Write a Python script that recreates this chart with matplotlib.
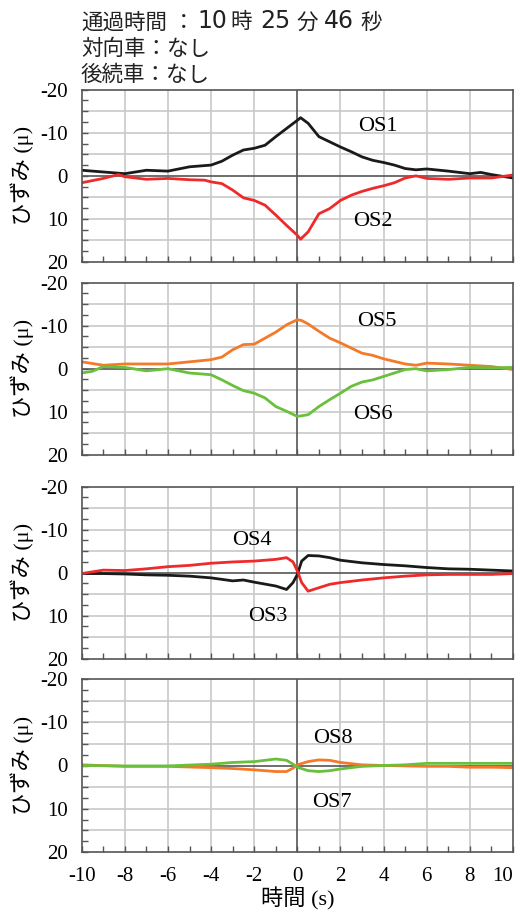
import numpy as np
import matplotlib
matplotlib.use('Agg')
import matplotlib.pyplot as plt
from matplotlib.ticker import MultipleLocator

# (strain, negative = up)
t_os1 = [-10, -9, -8, -7, -6, -5, -4, -3.5, -3, -2.5, -2, -1.5, -1, -0.5, 0, 0.15, 0.5, 1, 1.5, 2, 2.5, 3, 3.5, 4, 4.5, 5, 5.5, 6, 7, 8, 8.5, 9, 10]
os1 = [-1.3, -0.9, -0.5, -1.3, -1.1, -2.1, -2.5, -3.4, -4.8, -6.0, -6.4, -7.1, -9.1, -11.0, -12.9, -13.5, -12.2, -9.1, -7.9, -6.7, -5.6, -4.4, -3.6, -3.1, -2.5, -1.7, -1.4, -1.6, -1.1, -0.5, -0.8, -0.3, 0.5]

t_os2 = [-10, -9, -8.3, -8, -7, -6, -5, -4.3, -4, -3.5, -3, -2.5, -2, -1.5, -1, -0.5, 0, 0.15, 0.5, 1, 1.5, 2, 2.5, 3, 3.5, 4, 4.5, 5, 5.5, 6, 7, 8, 9, 10]
os2 = [1.6, 0.6, -0.3, 0.2, 0.8, 0.6, 0.9, 1.0, 1.4, 1.8, 3.3, 5.1, 5.7, 6.8, 9.1, 11.5, 13.8, 14.7, 13.0, 8.8, 7.6, 5.7, 4.5, 3.6, 2.9, 2.3, 1.6, 0.5, 0.0, 0.6, 0.8, 0.5, 0.5, -0.2]

t_os5 = [-10, -9, -8, -7, -6, -5, -4, -3.5, -3, -2.5, -2, -1.5, -1, -0.5, 0, 0.2, 0.5, 1, 1.5, 2, 2.5, 3, 3.5, 4, 4.5, 5, 5.5, 6, 7, 8, 9, 10]
os5 = [-1.6, -0.8, -1.1, -1.1, -1.1, -1.6, -2.1, -2.7, -4.4, -5.6, -5.7, -7.1, -8.5, -10.2, -11.4, -11.2, -10.4, -8.7, -7.1, -6.0, -4.8, -3.6, -3.1, -2.3, -1.7, -1.1, -0.8, -1.3, -1.1, -0.8, -0.5, 0.2]

t_os6 = [-10, -9.5, -9, -8, -7, -6, -5, -4, -3.5, -3, -2.5, -2, -1.5, -1, -0.5, 0, 0.5, 1, 1.5, 2, 2.5, 3, 3.5, 4, 4.5, 5, 5.5, 6, 7, 8, 9, 10]
os6 = [1.0, 0.6, -0.5, -0.3, 0.5, 0.0, 1.0, 1.4, 2.6, 3.9, 5.1, 5.7, 6.8, 8.8, 9.9, 11.1, 10.7, 8.8, 7.2, 5.7, 4.1, 3.1, 2.6, 1.8, 1.0, 0.2, 0.0, 0.5, 0.2, -0.3, -0.2, -0.3]

t_os3 = [-10, -9, -8, -7, -6, -5, -4, -3, -2.5, -2, -1, -0.5, -0.2, 0, 0.2, 0.5, 1, 1.5, 2, 3, 4, 5, 6, 7, 8, 9, 10]
os3 = [0.2, 0.2, 0.3, 0.5, 0.6, 0.8, 1.2, 1.9, 1.7, 2.2, 3.1, 3.9, 2.3, 0.4, -2.7, -4.0, -3.9, -3.5, -2.9, -2.3, -1.9, -1.6, -1.2, -0.9, -0.8, -0.6, -0.4]

t_os4 = [-10, -9, -8, -7, -6, -5, -4, -3, -2, -1, -0.5, -0.2, 0, 0.2, 0.5, 1, 1.5, 2, 3, 4, 5, 6, 7, 8, 9, 10]
os4 = [0.2, -0.6, -0.5, -0.9, -1.4, -1.7, -2.2, -2.5, -2.7, -3.1, -3.5, -2.5, -0.4, 2.3, 4.3, 3.5, 2.7, 2.3, 1.7, 1.2, 0.8, 0.5, 0.4, 0.4, 0.4, 0.2]

t_os7 = [-10, -8, -6, -4, -3, -2, -1, -0.5, -0.2, 0, 0.5, 1, 1.5, 2, 3, 4, 5, 6, 7, 8, 9, 10]
os7 = [0.0, 0.1, 0.1, -0.3, -0.7, -0.9, -1.5, -1.2, -0.3, 0.4, 1.2, 1.4, 1.2, 0.8, 0.2, 0.0, -0.15, -0.5, -0.5, -0.5, -0.5, -0.5]

t_os8 = [-10, -8, -6, -4, -3, -2, -1, -0.5, -0.2, 0, 0.5, 1, 1.5, 2, 3, 4, 5, 6, 7, 8, 9, 10]
os8 = [-0.15, 0.2, 0.2, 0.5, 0.7, 1.0, 1.4, 1.4, 0.6, -0.15, -0.9, -1.3, -1.2, -0.7, -0.15, 0.0, 0.1, 0.2, 0.2, 0.4, 0.4, 0.5]

y_ticks = [-20, -10, 0, 10, 20]
x_ticks = list(range(-10, 11, 2))
# first title line in pieces: 通過時間：10 時 25 分 46 秒
title_parts = ['通過時間', '：', '10', '時', '25', '分', '46', '秒']
title_lines = ['対向車：なし', '後続車：なし']

BLACK = '#1a1a1a'
RED = '#ee2a2a'
ORANGE = '#f47a2a'
GREEN = '#6abf3c'

panels = [
    ([(t_os1, os1, BLACK), (t_os2, os2, RED)], [('OS1', 3.74, -11.4), ('OS2', 3.5, 10.7)]),
    ([(t_os5, os5, ORANGE), (t_os6, os6, GREEN)], [('OS5', 3.68, -11.0), ('OS6', 3.52, 10.7)]),
    ([(t_os3, os3, BLACK), (t_os4, os4, RED)], [('OS4', -2.09, -7.4), ('OS3', -1.35, 10.1)]),
    ([(t_os8, os8, ORANGE), (t_os7, os7, GREEN)], [('OS8', 1.66, -6.2), ('OS7', 1.59, 8.5)]),
]

# axes boxes in pixels (top, bottom)
boxes = [(89.7, 262.0), (282.7, 454.7), (486.7, 658.7), (679.0, 852.0)]

W, H = 520, 915
fig = plt.figure(figsize=(W / 100, H / 100), dpi=100)

serif = ['Liberation Serif', 'Noto Sans CJK JP']
gothic = ['DejaVu Sans', 'Noto Sans CJK JP']
left, right = 81.7, 513.0
ylab_x = (22.5 - left) / (right - left)

for k, ((series, labels), (top, bot)) in enumerate(zip(panels, boxes)):
    ax = fig.add_axes([left / W, 1 - bot / H, (right - left) / W, (bot - top) / H])
    ax.set_xlim(-10, 10)
    ax.set_ylim(20, -20)
    ax.xaxis.set_minor_locator(MultipleLocator(1))
    ax.yaxis.set_minor_locator(MultipleLocator(2.5))
    for v in np.arange(-8, 9, 2):
        if v != 0:
            ax.axvline(v, color='#c8c8c8', lw=1.2, zorder=0)
    for v in np.arange(-15, 16, 5):
        if v != 0:
            ax.axhline(v, color='#c8c8c8', lw=1.2, zorder=0)
    ax.axhline(0, color='#555555', lw=1.2, zorder=1)
    ax.axvline(0, color='#555555', lw=1.2, zorder=1)
    for t, y, c in series:
        ax.plot(t, y, color=c, lw=2.0, zorder=2)
    for txt, x, y in labels:
        ax.text(x, y, txt, ha='center', va='center', fontsize=16, family='Liberation Serif')
    ax.tick_params(which='both', direction='in', color='#555555', width=1.0, top=False, right=False)
    ax.tick_params(which='major', length=4, labelsize=15)
    ax.tick_params(which='minor', length=4)
    ax.tick_params(axis='y', pad=10)
    ax.tick_params(axis='x', pad=11)
    ax.set_yticks(y_ticks)
    ax.set_yticklabels([str(v) for v in y_ticks], family='Liberation Serif')
    ax.set_xticks(x_ticks)
    ax.set_xticklabels([str(v) for v in x_ticks], family='Liberation Serif')
    for s in ax.spines.values():
        s.set_color('#555555')
        s.set_linewidth(1.2)
    ax.set_ylabel('ひずみ (μ)', family=serif, fontsize=16)
    ax.yaxis.set_label_coords(ylab_x, 0.5)
    ax.yaxis.label.set_va('center')
    if k < 3:
        ax.tick_params(axis='x', labelbottom=False)
    else:
        xl = ax.get_xticklabels()
        xl[-1].set_ha('right')
        xl[-1].set_x(10.15)
        ax.set_xlabel('時間 (s)', family=serif, fontsize=16)
        ax.xaxis.set_label_coords(0.5, -(899 - bot) / (bot - top))
        ax.xaxis.label.set_va('center')

# title block, baseline-aligned; first line placed piece by piece
part_x = [81, 183.5, 212, 241, 275, 307, 339, 371.5]
for part, xp in zip(title_parts, part_x):
    fs = 17 if part[0].isdigit() else 15.5
    fig.text(xp / W, 1 - 28.5 / H, part, family=gothic, fontsize=fs,
             ha='left' if xp == part_x[0] else 'center', va='baseline', color='#222222')
for i, line in enumerate(title_lines):
    fig.text(81 / W, 1 - (54.5 + 26.5 * i) / H, line, family=gothic, fontsize=15.5,
             ha='left', va='baseline', color='#222222')

fig.savefig('out.png', dpi=100)
